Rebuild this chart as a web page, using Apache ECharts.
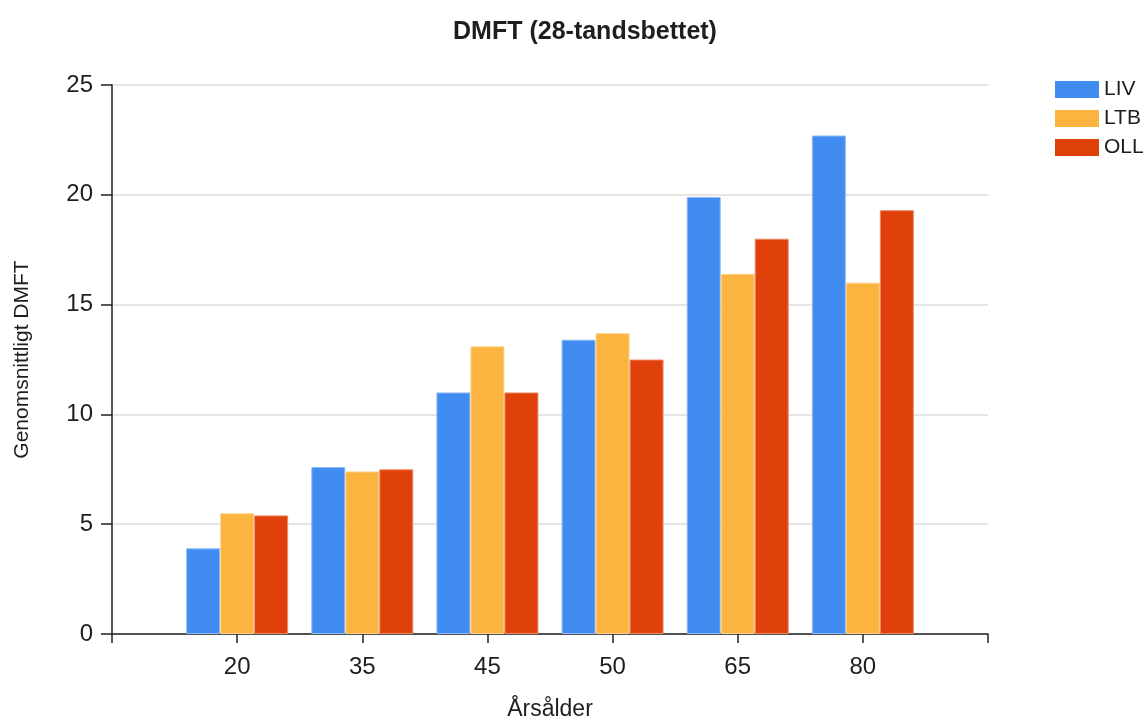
<!DOCTYPE html>
<html>
<head>
<meta charset="utf-8">
<title>DMFT (28-tandsbettet)</title>
<script src="https://cdn.jsdelivr.net/npm/echarts@6/dist/echarts.min.js"></script>
<style>
  html, body { margin: 0; padding: 0; background: #ffffff; }
  #chart { width: 1147px; height: 718px; }
</style>
</head>
<body>
<div id="chart"></div>
<script>
// Age groups (years) on the x axis
const ages = ['20', '35', '45', '50', '65', '80'];
// Mean DMFT per age group and clinic
const liv = [3.9, 7.6, 11.0, 13.4, 19.9, 22.7];
const ltb = [5.5, 7.4, 13.1, 13.7, 16.4, 16.0];
const oll = [5.4, 7.5, 11.0, 12.5, 18.0, 19.3];
// Y axis range
const yTicks = { min: 0, max: 25, interval: 5 };

const seriesNames = ['LIV', 'LTB', 'OLL'];
const seriesValues = [liv, ltb, oll];
const colors = ['#418cf0', '#fcb441', '#e0400a'];
const edges = ['#8dbbf6', '#fdd38c', '#ee8a66'];

// One empty slot at each end of the axis leaves room before the first and after the last group
const axisCats = [''].concat(ages, ['']);

const FONT = '"Liberation Sans", Arial, sans-serif';
const TXT = '#1e1e1e';

const chart = echarts.init(document.getElementById('chart'), null, { renderer: 'canvas' });

chart.setOption({
  backgroundColor: '#ffffff',
  animation: false,
  color: colors,
  title: {
    text: 'DMFT (28-tandsbettet)',
    left: 580,
    top: 15,
    textAlign: 'center',
    textStyle: { fontFamily: FONT, fontSize: 25, fontWeight: 'bold', color: TXT }
  },
  legend: {
    data: seriesNames,
    orient: 'vertical',
    left: 1050,
    top: 74,
    icon: 'rect',
    itemWidth: 44,
    itemHeight: 17,
    itemGap: 8,
    itemStyle: { borderWidth: 0 },
    textStyle: { fontFamily: FONT, fontSize: 21, color: TXT }
  },
  grid: { left: 112, right: 159, top: 85, bottom: 84, containLabel: false, outerBoundsMode: 'none' },
  xAxis: {
    type: 'category',
    data: axisCats,
    boundaryGap: false,
    name: 'Årsålder',
    nameLocation: 'middle',
    nameGap: 64,
    nameTextStyle: { fontFamily: FONT, fontSize: 23, color: TXT },
    axisLine: { lineStyle: { color: '#222222', width: 1.5 } },
    axisTick: { show: true, length: 9, interval: 0, lineStyle: { color: '#222222', width: 1.5 } },
    axisLabel: { interval: 0, margin: 21, fontFamily: FONT, fontSize: 24, color: TXT },
    splitLine: { show: false }
  },
  yAxis: {
    type: 'value',
    min: yTicks.min,
    max: yTicks.max,
    interval: yTicks.interval,
    name: 'Genomsnittligt DMFT',
    nameLocation: 'middle',
    nameRotate: 90,
    nameGap: 79,
    nameTextStyle: { fontFamily: FONT, fontSize: 21, color: TXT },
    axisLine: { show: true, lineStyle: { color: '#222222', width: 1.5 } },
    axisTick: { show: true, length: 11, lineStyle: { color: '#222222', width: 1.5 } },
    axisLabel: { margin: 19, fontFamily: FONT, fontSize: 24, color: TXT },
    splitLine: { show: true, lineStyle: { color: '#dcdcdc', width: 1.5 } }
  },
  series: seriesNames.map((name, i) => ({
    name: name,
    type: 'bar',
    barWidth: 34,
    barGap: '0%',
    data: [null].concat(seriesValues[i], [null]),
    itemStyle: { color: colors[i], borderColor: edges[i], borderWidth: 1 }
  }))
});
</script>
</body>
</html>
